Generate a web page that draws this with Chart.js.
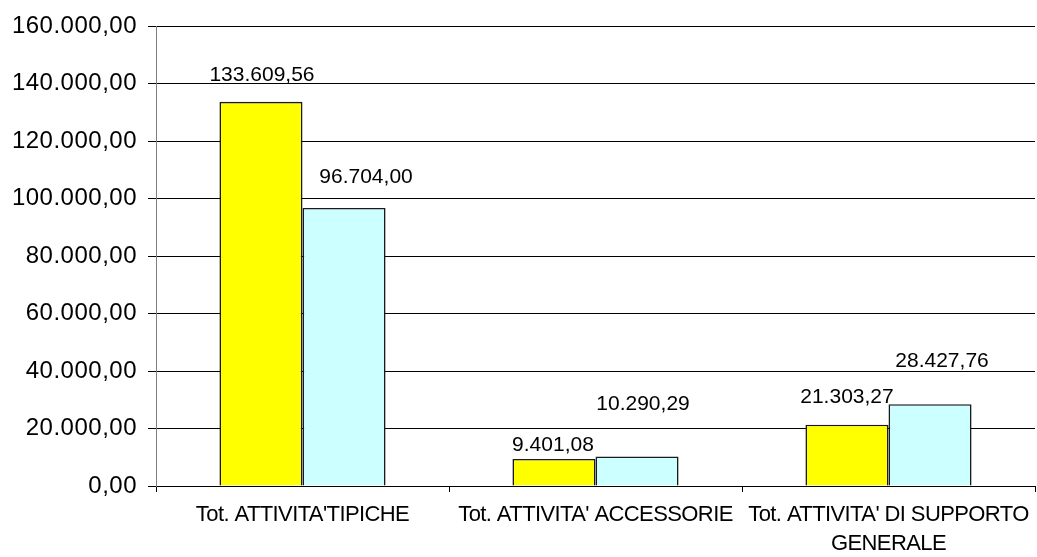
<!DOCTYPE html>
<html>
<head>
<meta charset="utf-8">
<script src="https://cdn.jsdelivr.net/npm/chart.js@4"></script>
<style>
  html, body { margin: 0; padding: 0; background: #ffffff; }
  #wrap { width: 1037px; height: 557px; position: relative; }
</style>
</head>
<body>
<div id="wrap"><canvas id="c"></canvas></div>
<script>
// ---- data ----
const categories = [
  "Tot. ATTIVITA'TIPICHE",
  "Tot. ATTIVITA' ACCESSORIE",
  ["Tot. ATTIVITA' DI SUPPORTO", "GENERALE"]
];
const seriesYellow = [133609.56, 9401.08, 21303.27];
const seriesCyan = [96704.00, 10290.29, 28427.76];
const yMin = 0;
const yMax = 160000;
const yStep = 20000;

// label placement relative to each bar (layout only)
const labelOffsets = [
  [{dx: 1, dy: -27}, {dx: -1, dy: -14}, {dx: 0, dy: -28}],
  [{dx: 22, dy: -31}, {dx: 6, dy: -52}, {dx: 12, dy: -43}]
];

function fmtIt(v) {
  const neg = v < 0; v = Math.abs(v);
  let [i, d] = v.toFixed(2).split('.');
  i = i.replace(/\B(?=(\d{3})+(?!\d))/g, '.');
  return (neg ? '-' : '') + i + ',' + d;
}

const spacingPlugin = {
  id: 'spacing',
  beforeDraw(chart) {
    const sx = chart.scales.x, sy = chart.scales.y;
    if (!sx._spWrapped) {
      const o = sx.drawLabels;
      sx.drawLabels = function (ca) { this.ctx.save(); this.ctx.letterSpacing = '-0.6px'; o.call(this, ca); this.ctx.restore(); };
      sx._spWrapped = true;
    }
    if (!sy._spWrapped) {
      const o2 = sy.drawLabels;
      sy.drawLabels = function (ca) { this.ctx.save(); this.ctx.letterSpacing = '0.5px'; o2.call(this, ca); this.ctx.restore(); };
      sy._spWrapped = true;
    }
  }
};

const valueLabels = {
  id: 'valueLabels',
  afterDatasetsDraw(chart) {
    const ctx = chart.ctx;
    ctx.save();
    ctx.font = '21px "Liberation Sans", Arial, sans-serif';
    ctx.fillStyle = '#000000';
    ctx.textAlign = 'center';
    ctx.textBaseline = 'middle';
    chart.data.datasets.forEach((ds, di) => {
      const meta = chart.getDatasetMeta(di);
      meta.data.forEach((bar, i) => {
        const off = labelOffsets[di][i];
        ctx.fillText(fmtIt(ds.data[i]), bar.x + off.dx, bar.y + off.dy);
      });
    });
    ctx.restore();
  }
};

new Chart(document.getElementById('c'), {
  type: 'bar',
  data: {
    labels: categories,
    datasets: [
      { data: seriesYellow, backgroundColor: '#FFFF00', borderColor: '#1a1a1a', borderWidth: 1.6 },
      { data: seriesCyan, backgroundColor: '#CCFFFF', borderColor: '#1a1a1a', borderWidth: 1.6 }
    ]
  },
  options: {
    responsive: true,
    maintainAspectRatio: false,
    animation: false,
    devicePixelRatio: 1,
    layout: { padding: { top: 26, right: 2, left: 0, bottom: 0 } },
    plugins: { legend: { display: false }, tooltip: { enabled: false } },
    datasets: { bar: { categoryPercentage: 0.567, barPercentage: 1.0 } },
    scales: {
      x: {
        grid: { offset: true, drawOnChartArea: false, color: '#000000', tickLength: 6, lineWidth: 1 },
        border: { color: '#000000', width: 1 },
        ticks: {
          color: '#000000',
          font: { family: '"Liberation Sans", Arial, sans-serif', size: 22, lineHeight: 1.32 },
          autoSkip: false, maxRotation: 0, minRotation: 0, padding: 8
        },
        afterFit(s) { s.height = 71; s.paddingLeft = 0; s.paddingRight = 0; }
      },
      y: {
        min: yMin, max: yMax,
        grid: { color: '#000000', tickLength: 8, lineWidth: 1 },
        border: { color: '#808080', width: 1 },
        ticks: {
          stepSize: yStep,
          color: '#000000',
          font: { family: '"Liberation Sans", Arial, sans-serif', size: 24 },
          padding: 11,
          callback: (v) => fmtIt(v)
        },
        afterFit(s) { s.width = 156; }
      }
    }
  },
  plugins: [spacingPlugin, valueLabels]
});
</script>
</body>
</html>
